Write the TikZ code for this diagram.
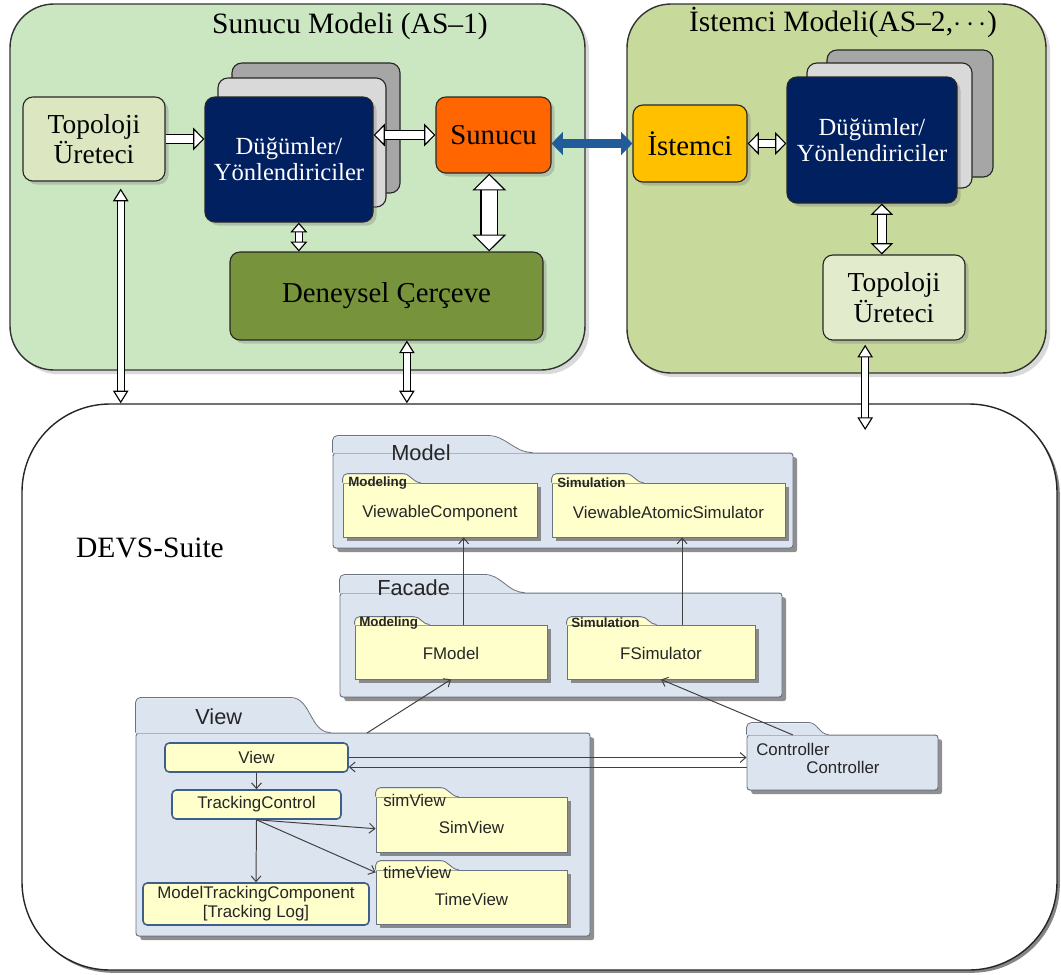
\documentclass[tikz,border=0pt]{standalone}
\usepackage{fontspec}
\setmainfont{Liberation Serif}
\setsansfont{Liberation Sans}
\usetikzlibrary{arrows.meta,fit,shadows}

\definecolor{servergreen}{HTML}{CBE7C2}
\definecolor{clientgreen}{HTML}{C7D99B}
\definecolor{topofill}{HTML}{DCE6C0}
\definecolor{nodenavy}{HTML}{002060}
\definecolor{stacklight}{HTML}{D9D9D9}
\definecolor{stackdark}{HTML}{A6A6A6}
\definecolor{serverorange}{HTML}{FF6600}
\definecolor{clientyellow}{HTML}{FFC000}
\definecolor{frameolive}{HTML}{77933C}
\definecolor{linkblue}{HTML}{1F5C99}
\definecolor{pkgblue}{HTML}{DCE4F0}
\definecolor{pkgline}{HTML}{6A7480}
\definecolor{folderyellow}{HTML}{FFFFCC}
\definecolor{classline}{HTML}{3E5F8A}

\tikzset{
  wtip/.tip={Triangle[open,fill=white,line width=0.8pt,length=8pt,width=16pt]},
  wsmall/.tip={Triangle[open,fill=white,line width=0.8pt,length=7pt,width=12pt]},
  wbig/.tip={Triangle[open,fill=white,line width=0.8pt,length=12pt,width=24pt]},
  wthin/.tip={Triangle[open,fill=white,line width=0.8pt,length=9pt,width=11pt]},
  btip/.tip={Triangle[length=8pt,width=16pt]},
}

\tikzstyle{model} = [draw=black!80, line width=1pt, rounded corners=1.1cm, inner sep=0pt, drop shadow={shadow xshift=3pt, shadow yshift=-3pt, opacity=0.3}]
\tikzstyle{block} = [draw=black!85, line width=0.8pt, rounded corners=7pt, inner sep=0pt, drop shadow={shadow xshift=2.5pt, shadow yshift=-2.5pt, opacity=0.35}]
\tikzstyle{stack} = [draw=black!85, line width=0.8pt, rounded corners=7pt, inner sep=0pt]
\tikzstyle{boxfont} = [font=\fontsize{20.5}{23}\selectfont]
\tikzstyle{topofont} = [font=\fontsize{19.5}{21.5}\selectfont, align=center]
\tikzstyle{nodefont} = [font=\fontsize{17.5}{18.5}\selectfont, text=white, align=center]
\tikzstyle{titlefont} = [font=\fontsize{21}{24}\selectfont]
\tikzstyle{whitearrow} = [draw=black, line width=0.8pt, double=white, double distance=5pt]
\tikzstyle{pkg} = [draw=pkgline, fill=pkgblue, line width=0.7pt, rounded corners=2pt, inner sep=0pt, drop shadow={shadow xshift=3pt, shadow yshift=-3pt, fill=black!55, opacity=0.8}]
\tikzstyle{clsfont} = [font=\sffamily\fontsize{12}{13.5}\selectfont, text=black!85, align=center]
\tikzstyle{folder} = [draw=pkgline, fill=folderyellow, line width=0.6pt, inner sep=0pt, drop shadow={shadow xshift=2.5pt, shadow yshift=-2.5pt, fill=black!55, opacity=0.8}]
\tikzstyle{cls} = [draw=classline, fill=folderyellow, line width=1.1pt, rounded corners=3pt, inner sep=0pt]
\tikzstyle{pkgtitle} = [font=\sffamily\fontsize{15.5}{18}\selectfont, text=black!85, inner sep=0pt]
\tikzstyle{tag} = [font=\sffamily\bfseries\fontsize{9.5}{11}\selectfont, text=black!85, inner sep=0pt]
\tikzstyle{tagplain} = [clsfont, inner sep=0pt]
\tikzstyle{uml} = [draw=black!75, line width=0.7pt, -{Straight Barb[length=4pt,width=7pt]}]

% tab on top of a folder: node, width, height, colour, slope
\newcommand{\foldertab}[5]{%
  \fill[#4] ([yshift=-0.6pt]#1.north west) -- ++(0,-#3+5) to[out=90,in=180] ++(5,-5) -- ++(#2-5-#5,0) to[out=0,in=180] ++(#5,#3) -- cycle;
  \draw[pkgline, line width=0.6pt] (#1.north west) -- ++(0,-#3+5) to[out=90,in=180] ++(5,-5) -- ++(#2-5-#5,0) to[out=0,in=180] ++(#5,#3);
}

\begin{document}
\begin{tikzpicture}[x=0.025cm, y=-0.025cm]
  \useasboundingbox (0,0) rectangle (1061,975);

  % First the two models on top
  \node[model, fill=servergreen, fit={(10,4) (585,370)}] (server) {};
  \node[titlefont] (servertitle) at (350,26) {Sunucu Modeli (AS–1)};
  \node[model, fill=clientgreen, fit={(627,4) (1046,373)}] (client) {};
  \node[titlefont] (clienttitle) at (843,22) {İstemci Modeli(AS–2,$\cdots$)};

  % server side
  \node[block, fill=topofill, fit={(23,97) (165,181)}, label={[topofont]center:Topoloji\\Üreteci}] (stopo) {};
  \node[stack, fill=stackdark, fit={(232,63) (400,193)}] (sback2) {};
  \node[stack, fill=stacklight, fit={(218,78) (386,207)}] (sback1) {};
  \node[block, fill=nodenavy, fit={(205,97) (373,222)}, label={[nodefont]center:Düğümler/\\Yönlendiriciler}] (snodes) {};
  \node[block, fill=serverorange, fit={(436,97) (551,173)}, label={[boxfont]center:Sunucu}] (sunucu) {};
  \node[block, fill=frameolive, fit={(230,252) (543,340)}, label={[boxfont]center:Deneysel Çerçeve}] (deney) {};

  % client side
  \node[block, fill=clientyellow, fit={(633,105) (747,182)}, label={[boxfont]center:İstemci}] (istemci) {};
  \node[stack, fill=stackdark, fit={(827,50) (993,177)}] (cback2) {};
  \node[stack, fill=stacklight, fit={(807,63) (972,188)}] (cback1) {};
  \node[block, fill=nodenavy, fit={(787,77) (957,203)}, label={[nodefont]center:Düğümler/\\Yönlendiriciler}] (cnodes) {};
  \node[block, fill=topofill!80!white, fit={(823,255) (965,340)}, label={[topofont]center:Topoloji\\Üreteci}] (ctopo) {};

  % DEVS-Suite frame
  \node[draw=black!85, line width=1pt, fill=white, rounded corners=2.2cm, inner sep=0pt, drop shadow={shadow xshift=2pt, shadow yshift=-2pt, fill=black!60, opacity=0.8}, fit={(22,404) (1057,970)}] (devs) {};
  \node[titlefont] (devstitle) at (150,548) {DEVS-Suite};

  % block arrows between the components
  \draw[whitearrow, arrows=-wtip] (stopo.east) -- (stopo.east -| snodes.west);
  \draw[whitearrow, arrows=wtip-wtip] (sunucu.west -| snodes.east) -- (sunucu.west);
  \draw[whitearrow, double distance=4pt, arrows=wsmall-wsmall] ([xshift=7pt]snodes.south) -- ([xshift=7pt]snodes.south |- deney.north);
  \draw[whitearrow, double distance=11pt, arrows=wbig-wbig] ([xshift=-3pt]sunucu.south) -- ([xshift=-3pt]sunucu.south |- deney.north);
  \draw[line width=6.5pt, linkblue, arrows=btip-btip] (sunucu.east |- istemci.west) -- (istemci.west);
  \draw[whitearrow, arrows=wtip-wtip] (istemci.east) -- (istemci.east -| cnodes.west);
  \draw[whitearrow, double distance=6pt, arrows=wtip-wtip] ([xshift=7pt]cnodes.south) -- ([xshift=7pt]cnodes.south |- ctopo.north);

  % long links down to DEVS-Suite
  \draw[whitearrow, double distance=4pt, arrows=wthin-wthin] ([xshift=19pt,yshift=-5pt]stopo.south) -- ([xshift=19pt]stopo.south |- devs.north);
  \draw[whitearrow, double distance=4pt, arrows=wthin-wthin] ([xshift=14.5pt]deney.south) -- ([xshift=14.5pt]deney.south |- devs.north);
  \draw[whitearrow, double distance=4pt, arrows=wthin-wthin] ([xshift=-20.5pt,yshift=-3pt]ctopo.south) -- ([xshift=-20.5pt,yshift=-19pt]ctopo.south |- devs.north);

  % Model package
  \node[pkg, fit={(333,453) (793,548)}] (modelpkg) {};
  \foldertab{modelpkg}{200}{17}{pkgblue}{45}
  \node[pkgtitle, anchor=west] (modeltitle) at (391,453) {Model};
  \node[folder, fit={(343,483) (537,537)}, label={[clsfont, yshift=-2pt]center:ViewableComponent}] (vcomp) {};
  \foldertab{vcomp}{78}{9}{folderyellow}{18}
  \node[tag, anchor=west] at (348,483) {Modeling};
  \node[folder, fit={(552,483) (785,537)}, label={[clsfont, yshift=-2pt]center:ViewableAtomicSimulator}] (vsim) {};
  \foldertab{vsim}{92}{9}{folderyellow}{18}
  \node[tag, anchor=west] at (557,483) {Simulation};

  % Facade package
  \node[pkg, fit={(340,593) (782,697)}] (facadepkg) {};
  \foldertab{facadepkg}{185}{18}{pkgblue}{40}
  \node[pkgtitle, anchor=west] (facadetitle) at (377,588) {Facade};
  \node[folder, fit={(355,625) (547,679)}, label={[clsfont, yshift=-1pt]center:FModel}] (fmod) {};
  \foldertab{fmod}{75}{8}{folderyellow}{16}
  \node[tag, anchor=west] at (359,623) {Modeling};
  \node[folder, fit={(567,625) (755,679)}, label={[clsfont, yshift=-1pt]center:FSimulator}] (fsim) {};
  \foldertab{fsim}{90}{8}{folderyellow}{16}
  \node[tag, anchor=west] at (571,623) {Simulation};

  % View package
  \node[pkg, fit={(136,733) (590,936)}] (viewpkg) {};
  \foldertab{viewpkg}{195}{35}{pkgblue}{40}
  \node[pkgtitle, anchor=west] (viewtitle) at (195,717) {View};
  \node[cls, fit={(165,743) (348,772)}, label={[clsfont]center:View}] (view) {};
  \node[cls, fit={(172,790) (341,819)}, label={[clsfont]center:TrackingControl}] (track) {};
  \node[cls, fit={(143,883) (369,925)}, label={[clsfont]center:ModelTrackingComponent\\{[}Tracking Log]}] (mtc) {};
  \node[folder, fit={(376,797) (567,852)}, label={[clsfont, yshift=-2pt]center:SimView}] (simv) {};
  \foldertab{simv}{83}{9}{folderyellow}{18}
  \node[tagplain, anchor=west] at (383,800) {simView};
  \node[folder, fit={(376,870) (567,924)}, label={[clsfont, yshift=-2pt]center:TimeView}] (timev) {};
  \foldertab{timev}{83}{9}{folderyellow}{18}
  \node[tagplain, anchor=west] at (383,872) {timeView};

  % Controller package
  \node[pkg, fit={(747,735) (938,790)}] (ctrl) {};
  \foldertab{ctrl}{82}{12}{pkgblue}{20}
  \node[tagplain, anchor=west] (ctrlname) at (756,749) {Controller};
  \node[tagplain] (ctrlclass) at (843,767) {Controller};

  % UML links
  \foreach \source/\dest in {view/track, track/mtc}
    \draw[uml] (\source.south) -- (\dest.north);
  \draw[uml] (track.south) -- ([yshift=-3pt]simv.west);
  \draw[uml] (track.south) -- ([yshift=-2pt]timev.north west);
  \draw[uml] ([xshift=9pt]fmod.north) -- ([xshift=9pt]fmod.north |- vcomp.south);
  \draw[uml] ([xshift=15pt]fsim.north) -- ([xshift=15pt]fsim.north |- vsim.south);
  \coordinate (vtop) at (367,733);
  \coordinate (ctop) at (793,735);
  \draw[uml] (vtop) -- (fmod.south);
  \draw[uml] (ctop) -- (fsim.south);
  \draw[uml] (view.east) -- (view.east -| ctrl.west);
  \draw[uml] ([yshift=-3.2pt]ctrl.west) -- ([yshift=-3.2pt]ctrl.west -| view.east);
\end{tikzpicture}
\end{document}
